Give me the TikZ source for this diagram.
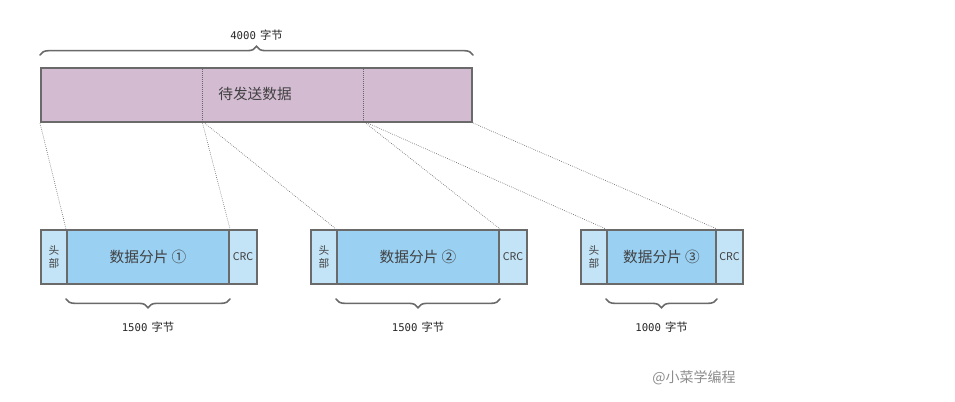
\documentclass[tikz,border=0pt]{standalone}
\usepackage{fontspec}
\setmainfont{Noto Sans CJK SC}
\newfontfamily\monofont{DejaVu Sans Mono}
\newfontfamily\cjkfont{Noto Sans CJK SC}
\usetikzlibrary{decorations.pathreplacing}
\definecolor{boxline}{HTML}{6A6A6A}
\definecolor{sendfill}{HTML}{D3BBD2}
\definecolor{fragfill}{HTML}{9AD0F2}
\definecolor{sidefill}{HTML}{C3E3F6}
\tikzset{
  cell/.style={draw=boxline, line width=1.5pt, anchor=north west, inner sep=0pt,
    minimum height=40.5pt, text=black!75},
  sendbox/.style={cell, fill=sendfill, minimum width=323.25pt, font=\fontsize{11}{13}\selectfont},
  fragbox/.style={cell, fill=fragfill, font=\fontsize{11}{13}\selectfont},
  sidebox/.style={cell, fill=sidefill, font=\fontsize{8}{10}\selectfont},
  cut/.style={densely dotted, draw=black!60, line width=0.5pt},
  brace/.style={draw=boxline, line width=1.2pt, line cap=round,
    decorate, decoration={brace, amplitude=6.5pt, raise=0pt}},
  size/.style={font=\monofont\fontsize{8}{10}\selectfont, text=black!85}
}
\newcommand{\zh}[1]{{\cjkfont\fontsize{8.5}{10}\selectfont #1}}

\begin{document}
\begin{tikzpicture}[x=0.75pt, y=-0.75pt]
    \useasboundingbox (0,0) rectangle (955,401);
    % data to send
    \node[sendbox] (send) at (40,67) {};
    \node at (255,94) {\fontsize{11}{13}\selectfont\color{black!75}待发送数据};
    \coordinate (cut1t) at (202,67);
    \coordinate (cut1b) at (202,121);
    \coordinate (cut2t) at (363,67);
    \coordinate (cut2b) at (363,121);
    \draw[cut] (cut1t) -- (cut1b);
    \draw[cut] (cut2t) -- (cut2b);
    \draw[brace] ([yshift=9pt]send.north west) -- ([yshift=9pt]send.north east)
      node[midway, above=7pt, size] (all) {4000\hspace{3pt}\zh{字节}};

    % fragment 1
    \node[sidebox, minimum width=19.5pt, align=center] (head1) at (40,229) {头\\部};
    \node[fragbox, minimum width=121.5pt] (frag1) at (66,229) {数据分片 ①};
    \node[sidebox, minimum width=21pt] (crc1) at (228,229) {CRC};
    % fragment 2
    \node[sidebox, minimum width=19.5pt, align=center] (head2) at (310,229) {头\\部};
    \node[fragbox, minimum width=121.5pt] (frag2) at (336,229) {数据分片 ②};
    \node[sidebox, minimum width=21pt] (crc2) at (498,229) {CRC};
    % fragment 3
    \node[sidebox, minimum width=19.5pt, align=center] (head3) at (580,229) {头\\部};
    \node[fragbox, minimum width=81.75pt] (frag3) at (606,229) {数据分片 ③};
    \node[sidebox, minimum width=20.25pt] (crc3) at (715,229) {CRC};

    % split lines
    \draw[cut] (send.south west) -- (frag1.north west);
    \draw[cut] (cut1b) -- (frag1.north east);
    \draw[cut] (cut1b) -- (frag2.north west);
    \draw[cut] (cut2b) -- (frag2.north east);
    \draw[cut] (cut2b) -- (frag3.north west);
    \draw[cut] (send.south east) -- (frag3.north east);

    % sizes
    \draw[brace] ([yshift=-10.5pt]frag1.south east) -- ([yshift=-10.5pt]frag1.south west)
      node[midway, below=13pt, size] (len1) {1500\hspace{3pt}\zh{字节}};
    \draw[brace] ([yshift=-10.5pt]frag2.south east) -- ([yshift=-10.5pt]frag2.south west)
      node[midway, below=13pt, size] (len2) {1500\hspace{3pt}\zh{字节}};
    \draw[brace] ([yshift=-10.5pt]frag3.south east) -- ([yshift=-10.5pt]frag3.south west)
      node[midway, below=13pt, size] (len3) {1000\hspace{3pt}\zh{字节}};

    \node[text=black!45, font=\fontsize{10.5}{12}\selectfont] (mark) at (694,378) {@小菜学编程};
  \end{tikzpicture}
\end{document}
